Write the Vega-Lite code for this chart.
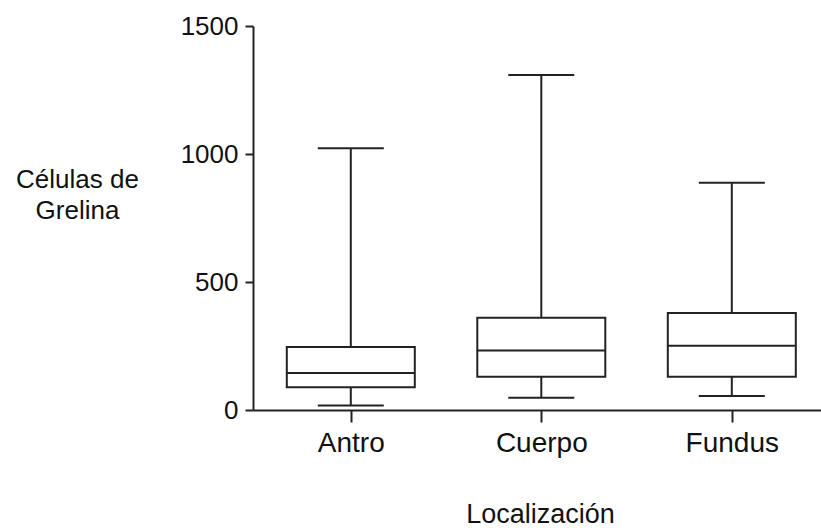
{
  "$schema": "https://vega.github.io/schema/vega-lite/v6.json",
  "width": 568,
  "height": 384,
  "autosize": {"type": "none"},
  "padding": {"left": 253, "top": 26, "right": 0, "bottom": 118},
  "background": "white",
  "config": {
    "view": {"stroke": null},
    "font": "Liberation Sans",
    "axis": {
      "grid": false,
      "domainColor": "#222",
      "tickColor": "#222",
      "domainWidth": 2,
      "tickWidth": 2,
      "labelColor": "#111",
      "titleColor": "#111",
      "labelFontSize": 26,
      "titleFontSize": 26,
      "titleFontWeight": "normal"
    }
  },
  "data": {
    "values": [
      {"loc": "Antro", "min": 18, "q1": 89, "median": 145, "q3": 246, "max": 1022},
      {"loc": "Cuerpo", "min": 48, "q1": 130, "median": 232, "q3": 360, "max": 1309},
      {"loc": "Fundus", "min": 55, "q1": 130, "median": 251, "q3": 379, "max": 888}
    ]
  },
  "encoding": {
    "x": {
      "field": "loc",
      "type": "nominal",
      "sort": ["Antro", "Cuerpo", "Fundus"],
      "scale": {"type": "point", "padding": 0.4908, "align": 0.523},
      "axis": {
        "title": "Localización",
        "labelAngle": 0,
        "labelFontSize": 28,
        "titleFontSize": 27,
        "tickSize": 12,
        "labelPadding": 7,
        "titleX": 287,
        "titleY": 112,
        "titleAlign": "center",
        "titleBaseline": "alphabetic"
      }
    }
  },
  "layer": [
    {
      "mark": {"type": "rule", "color": "#222", "strokeWidth": 2},
      "encoding": {
        "y": {
          "field": "q3",
          "type": "quantitative",
          "scale": {"domain": [0, 1500], "nice": false},
          "axis": {
            "title": ["Células de", "Grelina"],
            "titleAngle": 0,
            "titleX": -176,
            "titleY": 161,
            "titleAlign": "center",
            "titleBaseline": "alphabetic",
            "titleLineHeight": 31,
            "values": [0, 500, 1000, 1500],
            "format": "d",
            "tickSize": 8,
            "labelPadding": 7
          }
        },
        "y2": {"field": "max"}
      }
    },
    {
      "mark": {"type": "rule", "color": "#222", "strokeWidth": 2},
      "encoding": {
        "y": {"field": "min", "type": "quantitative"},
        "y2": {"field": "q1"}
      }
    },
    {
      "mark": {"type": "tick", "color": "#222", "size": 66, "thickness": 2, "opacity": 1},
      "encoding": {
        "y": {"field": "max", "type": "quantitative"}
      }
    },
    {
      "mark": {"type": "tick", "color": "#222", "size": 66, "thickness": 2, "opacity": 1},
      "encoding": {
        "y": {"field": "min", "type": "quantitative"}
      }
    },
    {
      "mark": {"type": "bar", "size": 128, "fill": "white", "stroke": "#222", "strokeWidth": 2, "opacity": 1},
      "encoding": {
        "y": {"field": "q1", "type": "quantitative"},
        "y2": {"field": "q3"}
      }
    },
    {
      "mark": {"type": "tick", "color": "#222", "size": 128, "thickness": 2, "opacity": 1},
      "encoding": {
        "y": {"field": "median", "type": "quantitative"}
      }
    }
  ]
}
